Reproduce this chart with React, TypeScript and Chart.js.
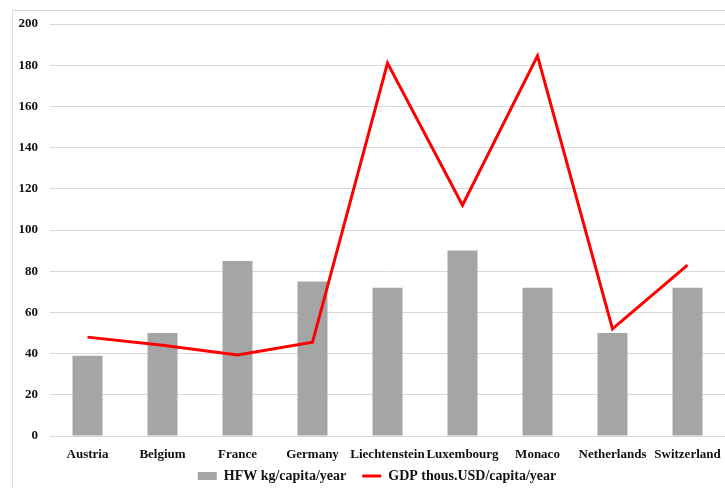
import React, { useEffect, useRef } from "react";
import { Chart, registerables } from "chart.js";

Chart.register(...registerables);

const countries = [
  "Austria",
  "Belgium",
  "France",
  "Germany",
  "Liechtenstein",
  "Luxembourg",
  "Monaco",
  "Netherlands",
  "Switzerland",
];
const hfwKgPerCapita = [39, 50, 85, 75, 72, 90, 72, 50, 72];
const gdpThousUsdPerCapita = [48, 44, 39.3, 45.5, 181, 112, 184.5, 52, 83];
const yTicks = [0, 20, 40, 60, 80, 100, 120, 140, 160, 180, 200];

const FONT = "'Liberation Serif', 'Times New Roman', serif";
const TEXT = "#111111";
const GRID = "#d9d9d9";
const BAR = "#a5a5a5";
const LINE = "#ff0000";

const LEGEND_PADDING = 16;
const LEGEND_FONT_SIZE = 14;
const PLOT_BOTTOM = 436;
const LEGEND_CENTER_Y = 476;

// Light frame around the whole chart
const framePlugin = {
  id: "frame",
  beforeDraw(chart: Chart) {
    const ctx = chart.ctx;
    ctx.save();
    ctx.strokeStyle = "#d9d9d9";
    ctx.lineWidth = 1;
    ctx.strokeRect(12.5, 10.5, chart.width + 20, chart.height + 20);
    ctx.restore();
  },
};

// Places the legend row close under the category labels
const legendPlacement = {
  id: "legendPlacement",
  afterLayout(chart: any) {
    const lg = chart.legend;
    const x = chart.scales.x;
    if (!lg || !x) return;
    const h = lg.bottom - lg.top;
    lg.left = 29;
    lg.width = lg.right - lg.left;
    lg.top = LEGEND_CENTER_Y - LEGEND_PADDING - LEGEND_FONT_SIZE / 2;
    lg.bottom = lg.top + h;
    x.bottom = Math.max(x.bottom, x.top + 32);
  },
};

export default function App() {
  const canvasRef = useRef<HTMLCanvasElement | null>(null);

  useEffect(() => {
    if (!canvasRef.current) return;
    const chart = new Chart(canvasRef.current, {
      data: {
        labels: countries,
        datasets: [
          {
            type: "line",
            label: "GDP thous.USD/capita/year",
            data: gdpThousUsdPerCapita,
            borderColor: LINE,
            backgroundColor: LINE,
            borderWidth: 3,
            pointRadius: 0,
            tension: 0,
            order: 1,
          },
          {
            type: "bar",
            label: "HFW kg/capita/year",
            data: hfwKgPerCapita,
            backgroundColor: BAR,
            borderWidth: 0,
            categoryPercentage: 1,
            barPercentage: 0.4,
            order: 2,
          },
        ],
      },
      options: {
        responsive: false,
        animation: false,
        layout: { padding: { top: 24, right: 0, bottom: 0, left: 0 } },
        plugins: {
          tooltip: { enabled: false },
          legend: {
            position: "bottom",
            reverse: true,
            labels: {
              color: TEXT,
              font: { family: FONT, size: LEGEND_FONT_SIZE, weight: "bold" },
              usePointStyle: true,
              pointStyleWidth: 19,
              boxHeight: 8,
              padding: LEGEND_PADDING,
              generateLabels(chart: Chart) {
                return chart.data.datasets.map((ds: any, i: number) => {
                  const isLine = ds.type === "line";
                  return {
                    text: ds.label,
                    datasetIndex: i,
                    fillStyle: isLine ? LINE : BAR,
                    strokeStyle: isLine ? LINE : BAR,
                    lineWidth: isLine ? 3 : 0,
                    pointStyle: isLine ? "line" : "rect",
                    fontColor: TEXT,
                    hidden: false,
                  };
                });
              },
            },
          },
        },
        scales: {
          x: {
            offset: true,
            afterFit(scale: any) {
              const legendHeight = LEGEND_FONT_SIZE + LEGEND_PADDING + 10;
              scale.height = 488 - legendHeight - PLOT_BOTTOM;
              scale.paddingLeft = 0;
              scale.paddingRight = 0;
            },
            grid: { display: false, drawTicks: false },
            border: { display: false },
            ticks: {
              color: TEXT,
              font: { family: FONT, size: 13, weight: "bold" },
              padding: 11,
              maxRotation: 0,
              autoSkip: false,
            },
          },
          y: {
            min: 0,
            max: 200,
            afterFit(scale: any) {
              scale.width = 50;
            },
            afterBuildTicks(scale: any) {
              scale.ticks = yTicks.map((v) => ({ value: v }));
            },
            grid: { color: GRID, lineWidth: 1, drawTicks: false },
            border: { display: false },
            ticks: {
              color: TEXT,
              font: { family: FONT, size: 13, weight: "bold" },
              padding: 12,
            },
          },
        },
      },
      plugins: [framePlugin, legendPlacement],
    } as any);
    return () => chart.destroy();
  }, []);

  return (
    <div style={{ position: "absolute", left: 0, top: 0, width: 725, height: 488, background: "#fff" }}>
      <canvas ref={canvasRef} width={725} height={488} />
    </div>
  );
}
